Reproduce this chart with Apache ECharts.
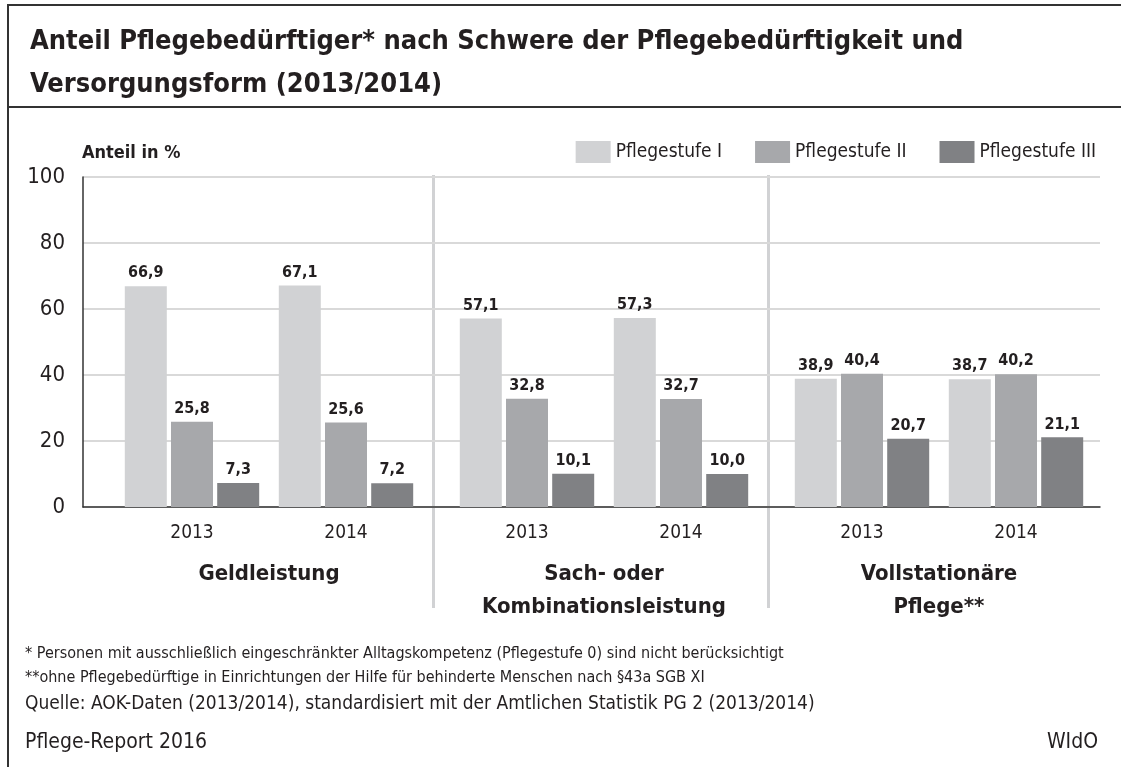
<!DOCTYPE html>
<html>
<head>
<meta charset="utf-8">
<script src="https://cdn.jsdelivr.net/npm/echarts@6/dist/echarts.min.js"></script>
<style>
    html, body { margin: 0; padding: 0; background: #fff; }
    #chart { width: 1121px; height: 767px; }
</style>
</head>
<body>
<div id="chart"></div>
<script>
const sections = ["Geldleistung", "Sach- oder\nKombinationsleistung", "Vollstationäre\nPflege**"]
const years = ["2013", "2014"]
const stufen = ["Pflegestufe I", "Pflegestufe II", "Pflegestufe III"]
// Werte je Versorgungsform: [2013, 2014]
const stufe1 = [[66.9, 67.1], [57.1, 57.3], [38.9, 38.7]]
const stufe2 = [[25.8, 25.6], [32.8, 32.7], [40.4, 40.2]]
const stufe3 = [[7.3, 7.2], [10.1, 10.0], [20.7, 21.1]]
const yTicks = [0, 20, 40, 60, 80, 100]

const colors = ["#d1d2d4", "#a7a8ab", "#808184"]
const textColor = "#231f20"
const font = "'Liberation Sans Narrow', 'DejaVu Sans Condensed', 'Roboto', sans-serif"

const gridTop = 177
const gridBottom = 260
const groupLefts = [115, 450, 785]

var myChart = echarts.init(document.getElementById("chart"), null, { renderer: "canvas" })

const grids = [{ left: 83, right: 21, top: gridTop, bottom: gridBottom }]
const xAxes = [{
    gridIndex: 0, type: "category", data: [""],
    axisLine: { lineStyle: { color: "#333", width: 1.5 } },
    axisTick: { show: false }, axisLabel: { show: false },
}]
const yAxes = [{
    gridIndex: 0, type: "value", min: yTicks[0], max: yTicks[yTicks.length - 1], interval: 20,
    axisLine: { show: true, lineStyle: { color: "#333", width: 1.5 } },
    axisTick: { show: false },
    axisLabel: { fontSize: 22, color: textColor, fontFamily: font, margin: 18 },
    splitLine: { lineStyle: { color: "#d9d9d9", width: 2 } },
}]
const series = []
const valueLabel = {
    show: true, position: "top", distance: 5,
    fontSize: 16, fontWeight: "bold", color: textColor, fontFamily: font,
    formatter: (p) => p.value.toFixed(1).replace(".", ","),
}

sections.forEach((name, i) => {
    const g = i + 1
    grids.push({ left: groupLefts[i], width: 308, top: gridTop, bottom: gridBottom })
    xAxes.push({
        gridIndex: g, type: "category", data: years,
        axisLine: { show: false }, axisTick: { show: false },
        axisLabel: { fontSize: 19, color: textColor, fontFamily: font, margin: 17 },
    })
    xAxes.push({
        gridIndex: g, type: "category", data: [name], position: "bottom", offset: 43,
        axisLine: { show: false }, axisTick: { show: false },
        axisLabel: { fontSize: 22, fontWeight: "bold", color: textColor, fontFamily: font, lineHeight: 33 },
    })
    yAxes.push({ gridIndex: g, type: "value", min: 0, max: 100, show: false })
    const xIdx = xAxes.length - 2
    ;[stufe1, stufe2, stufe3].forEach((data, k) => {
        series.push({
            name: stufen[k], type: "bar", xAxisIndex: xIdx, yAxisIndex: g,
            data: data[i], barWidth: 42, barGap: "10%",
            itemStyle: { color: colors[k] }, label: valueLabel,
        })
    })
})

const divider = (x) => ({
    type: "rect", shape: { x: x, y: 175, width: 3, height: 433 },
    style: { fill: "#d1d2d4" }, z: -1,
})

myChart.setOption({
    animation: false,
    title: [
        {
            text: "Anteil Pflegebedürftiger* nach Schwere der Pflegebedürftigkeit und\nVersorgungsform (2013/2014)",
            left: 25, top: 15,
            textStyle: { fontSize: 27, fontWeight: "bold", color: textColor, fontFamily: font, lineHeight: 43 },
        },
        {
            text: "Anteil in %", left: 77, top: 139,
            textStyle: { fontSize: 18, fontWeight: "bold", color: textColor, fontFamily: font },
        },
        {
            text: "* Personen mit ausschließlich eingeschränkter Alltagskompetenz (Pflegestufe 0) sind nicht berücksichtigt",
            left: 20, top: 641,
            textStyle: { fontSize: 16, fontWeight: "normal", color: textColor, fontFamily: font },
        },
        {
            text: "**ohne Pflegebedürftige in Einrichtungen der Hilfe für behinderte Menschen nach §43a SGB XI",
            left: 20, top: 665,
            textStyle: { fontSize: 16, fontWeight: "normal", color: textColor, fontFamily: font },
        },
        {
            text: "Quelle: AOK-Daten (2013/2014), standardisiert mit der Amtlichen Statistik PG 2 (2013/2014)",
            left: 20, top: 690,
            textStyle: { fontSize: 19, fontWeight: "normal", color: textColor, fontFamily: font },
        },
        {
            text: "Pflege-Report 2016", left: 20, top: 727,
            textStyle: { fontSize: 21, fontWeight: "normal", color: textColor, fontFamily: font },
        },
        {
            text: "WIdO", right: 18, top: 727,
            textStyle: { fontSize: 21, fontWeight: "normal", color: textColor, fontFamily: font },
        },
    ],
    legend: {
        data: stufen, top: 136, right: 20,
        itemWidth: 35, itemHeight: 22, itemGap: 33,
        icon: "rect",
        textStyle: { fontSize: 19, color: textColor, fontFamily: font },
    },
    grid: grids,
    xAxis: xAxes,
    yAxis: yAxes,
    series: series,
    graphic: [
        { type: "line", shape: { x1: 8, y1: 5, x2: 1121, y2: 5 }, style: { stroke: "#333", lineWidth: 2 } },
        { type: "line", shape: { x1: 8, y1: 4, x2: 8, y2: 767 }, style: { stroke: "#333", lineWidth: 2 } },
        { type: "line", shape: { x1: 8, y1: 107, x2: 1121, y2: 107 }, style: { stroke: "#333", lineWidth: 2 } },
        divider(432),
        divider(767),
    ],
})
</script>
</body>
</html>
